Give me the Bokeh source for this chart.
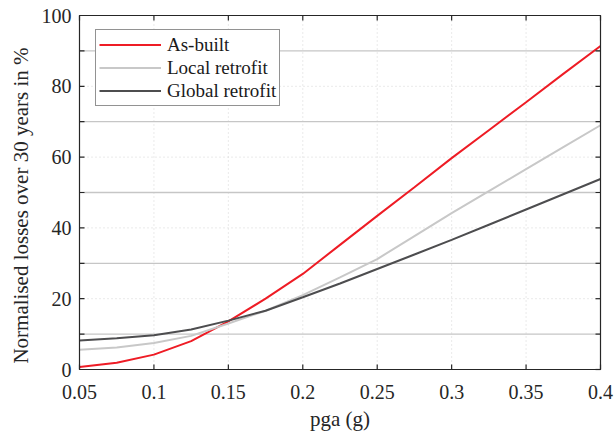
import math
from bokeh.plotting import figure
from bokeh.models import Legend, LegendItem, Range1d
from bokeh.core.properties import value
from bokeh.embed import file_html
from bokeh.resources import INLINE

# ---- data ----
pga = [0.05, 0.075, 0.1, 0.125, 0.15, 0.175, 0.2, 0.225, 0.25, 0.275, 0.3, 0.325, 0.35, 0.375, 0.4]
as_built = [0.7, 1.9, 4.2, 8.0, 13.6, 20.0, 27.0, 35.2, 43.4, 51.5, 59.7, 67.6, 75.5, 83.5, 91.4]
local_retrofit = [5.6, 6.2, 7.5, 9.5, 13.0, 16.6, 21.0, 26.0, 31.2, 37.7, 44.2, 50.4, 56.6, 62.8, 69.0]
global_retrofit = [8.2, 8.8, 9.7, 11.3, 13.8, 16.6, 20.4, 24.3, 28.4, 32.5, 36.6, 40.9, 45.2, 49.5, 53.8]
x_ticks = [0.05, 0.1, 0.15, 0.2, 0.25, 0.3, 0.35, 0.4]
x_tick_labels = ["0.05", "0.1", "0.15", "0.2", "0.25", "0.3", "0.35", "0.4"]
y_ticks = [0, 20, 40, 60, 80, 100]
y_tick_labels = ["0", "20", "40", "60", "80", "100"]
y_minor = [10, 30, 50, 70, 90]
series_names = ["As-built", "Local retrofit", "Global retrofit"]
x_title = "pga (g)"
y_title = "Normalised losses over 30 years in %"

# ---- layout (pixels) ----
W, H = 614, 432
PX_L, PX_R, PX_T, PX_B = 79, 600, 15, 369
YTITLE_SHIFT = 13  # px downwards
FONT = "Liberation Serif"
AX = "#262626"
TXT = "#262626"

x0, x1 = x_ticks[0], x_ticks[-1]
y0, y1 = y_ticks[0], y_ticks[-1]
kx = (PX_R - PX_L) / (x1 - x0)
ky = (PX_B - PX_T) / (y1 - y0)

p = figure(width=W, height=H, output_backend="svg", toolbar_location=None,
           x_range=Range1d(x0 - PX_L / kx, x1 + (W - PX_R) / kx),
           y_range=Range1d(y0 - (H - PX_B) / ky, y1 + PX_T / ky),
           x_axis_location=None, y_axis_location=None,
           min_border=0, min_border_left=0, min_border_right=0,
           min_border_top=0, min_border_bottom=0)
p.grid.visible = False
p.outline_line_color = None
p.background_fill_color = "white"
p.border_fill_color = "white"

n_x, n_y, n_m = len(x_ticks), len(y_ticks), len(y_minor)

# grid: dotted at major ticks, solid at the minor y levels
p.segment(x0=x_ticks, y0=[y0] * n_x, x1=x_ticks, y1=[y1] * n_x,
          line_color="#d4d4d4", line_width=1, line_dash="1 3")
p.segment(x0=[x0] * n_y, y0=y_ticks, x1=[x1] * n_y, y1=y_ticks,
          line_color="#d4d4d4", line_width=1, line_dash="1 3")
p.segment(x0=[x0] * n_m, y0=y_minor, x1=[x1] * n_m, y1=y_minor,
          line_color="#c6c6c6", line_width=1.3)

# data lines
r1 = p.line(pga, as_built, line_color="#ee1c25", line_width=2)
r2 = p.line(pga, local_retrofit, line_color="#c8c8c8", line_width=2)
r3 = p.line(pga, global_retrofit, line_color="#4d4d4f", line_width=2)

# axes box
p.quad(left=[x0], right=[x1], bottom=[y0], top=[y1], fill_color=None,
       line_color=AX, line_width=1.2)

# inward ticks on all four sides
all_y = y_ticks + y_minor
p.ray(x=x_ticks, y=[y0] * n_x, length=5, length_units="screen", angle=math.pi / 2,
      line_color=AX, line_width=1.2)
p.ray(x=x_ticks, y=[y1] * n_x, length=5, length_units="screen", angle=-math.pi / 2,
      line_color=AX, line_width=1.2)
p.ray(x=[x0] * len(all_y), y=all_y, length=5, length_units="screen", angle=0,
      line_color=AX, line_width=1.2)
p.ray(x=[x1] * len(all_y), y=all_y, length=5, length_units="screen", angle=math.pi,
      line_color=AX, line_width=1.2)

# tick labels and titles
p.text(x=x_ticks, y=[y0] * n_x, text=x_tick_labels, y_offset=22,
       text_align="center", text_baseline="middle",
       text_font=value(FONT), text_font_size="20px", text_color=TXT)
p.text(x=[x0] * n_y, y=y_ticks, text=y_tick_labels, x_offset=-8,
       text_align="right", text_baseline="middle",
       text_font=value(FONT), text_font_size="20px", text_color=TXT)
p.text(x=[(x0 + x1) / 2], y=[y0], text=[x_title], y_offset=49,
       text_align="center", text_baseline="middle",
       text_font=value(FONT), text_font_size="21px", text_color=TXT)
p.text(x=[x0], y=[(y0 + y1) / 2 - YTITLE_SHIFT / ky], text=[y_title], x_offset=-59,
       angle=math.pi / 2, text_align="center", text_baseline="middle",
       text_font=value(FONT), text_font_size="21px", text_color=TXT)

legend = Legend(items=[LegendItem(label=series_names[0], renderers=[r1]),
                       LegendItem(label=series_names[1], renderers=[r2]),
                       LegendItem(label=series_names[2], renderers=[r3])],
                location=(95, H - 106))
legend.label_text_font = FONT
legend.label_text_font_size = "19px"
legend.label_text_color = "#1a1a1a"
legend.glyph_width = 62
legend.glyph_height = 23
legend.label_height = 23
legend.label_standoff = 6
legend.spacing = 0
legend.padding = 3
legend.margin = 0
legend.border_line_color = AX
legend.border_line_width = 1
legend.background_fill_color = "white"
legend.background_fill_alpha = 1
p.add_layout(legend, "center")

open("out.html", "w").write(file_html(p, INLINE))
